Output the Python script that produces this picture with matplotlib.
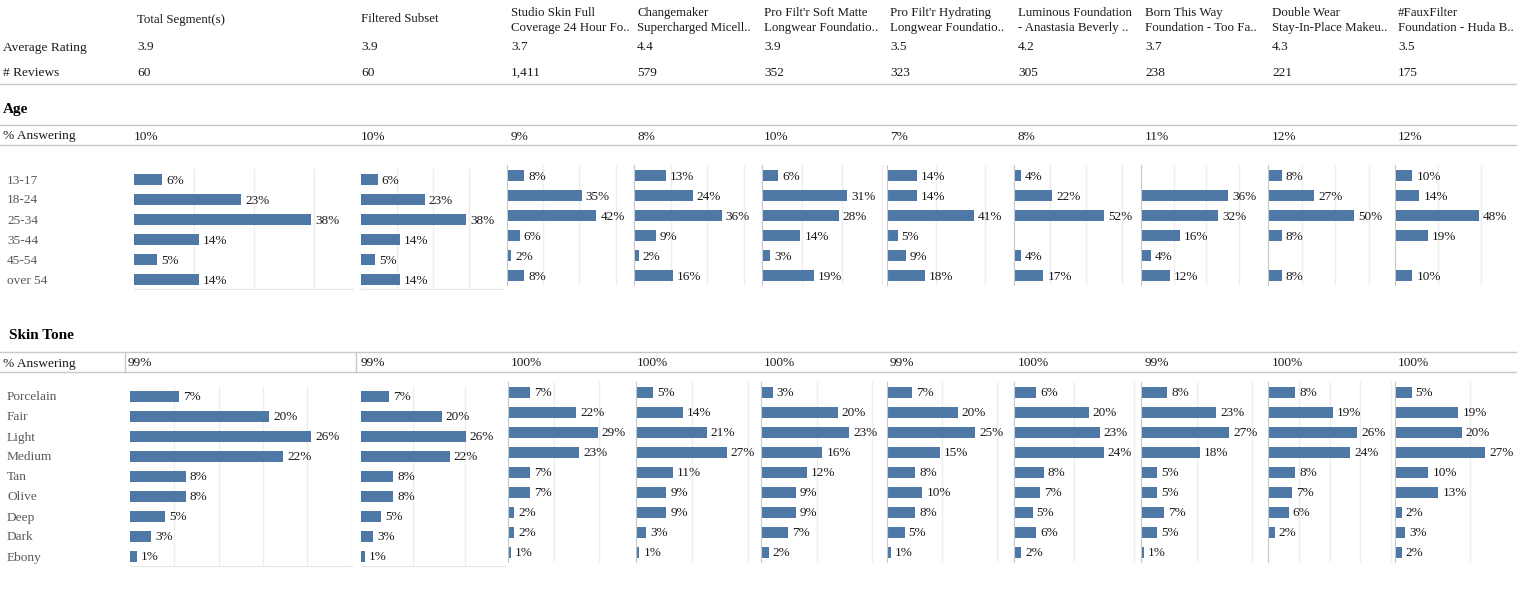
import numpy as np
import matplotlib.pyplot as plt
from matplotlib.lines import Line2D

# table columns
products = ["Total Segment(s)", "Filtered Subset",
            "Studio Skin Full\nCoverage 24 Hour Fo..",
            "Changemaker\nSupercharged Micell..",
            "Pro Filt'r Soft Matte\nLongwear Foundatio..",
            "Pro Filt'r Hydrating\nLongwear Foundatio..",
            "Luminous Foundation\n- Anastasia Beverly ..",
            "Born This Way\nFoundation - Too Fa..",
            "Double Wear\nStay-In-Place Makeu..",
            "#FauxFilter\nFoundation - Huda B.."]
avg_rating = [3.9, 3.9, 3.7, 4.4, 3.9, 3.5, 4.2, 3.7, 4.3, 3.5]
n_reviews = [60, 60, 1411, 579, 352, 323, 305, 238, 221, 175]
age_answering = [10, 10, 9, 8, 10, 7, 8, 11, 12, 12]
skin_answering = [99, 99, 100, 100, 100, 99, 100, 99, 100, 100]

age_groups = ["13-17", "18-24", "25-34", "35-44", "45-54", "over 54"]
age_pct = [
    [6, 23, 38, 14, 5, 14],
    [6, 23, 38, 14, 5, 14],
    [8, 35, 42, 6, 2, 8],
    [13, 24, 36, 9, 2, 16],
    [6, 31, 28, 14, 3, 19],
    [14, 14, 41, 5, 9, 18],
    [4, 22, 52, None, 4, 17],
    [None, 36, 32, 16, 4, 12],
    [8, 27, 50, 8, None, 8],
    [10, 14, 48, 19, None, 10],
]

skin_tones = ["Porcelain", "Fair", "Light", "Medium", "Tan", "Olive", "Deep", "Dark", "Ebony"]
skin_pct = [
    [7, 20, 26, 22, 8, 8, 5, 3, 1],
    [7, 20, 26, 22, 8, 8, 5, 3, 1],
    [7, 22, 29, 23, 7, 7, 2, 2, 1],
    [5, 14, 21, 27, 11, 9, 9, 3, 1],
    [3, 20, 23, 16, 12, 9, 9, 7, 2],
    [7, 20, 25, 15, 8, 10, 8, 5, 1],
    [6, 20, 23, 24, 8, 7, 5, 6, 2],
    [8, 23, 27, 18, 5, 5, 7, 5, 1],
    [8, 19, 26, 24, 8, 7, 6, 2, None],
    [5, 19, 20, 27, 10, 13, 2, 3, 2],
]

# layout (pixels)
W, H = 1517, 601
col_x = [137, 361, 511, 637, 764, 890, 1018, 1145, 1272, 1398]
age_panels = [(134, 353), (361, 503), (507, 634), (634, 762), (762, 887),
              (887, 1014), (1014, 1141), (1141, 1268), (1268, 1395), (1395, 1522)]
skin_panels = [(130, 352), (361, 505), (508, 636), (636, 761), (761, 887),
               (887, 1014), (1014, 1141), (1141, 1268), (1268, 1395), (1395, 1522)]
age_xmax = [47, 51.4, 59.6, 52.5, 45.6, 59.9, 73.4, 52.5, 73.8, 72.6]
age_step = [12.85, 13, 17, 15, 14.6, 23, 20.8, 13.5, 19.5, 24.6]
skin_xmax = [31.9, 35.7, 41.3, 37.2, 32.8, 35.9, 34, 38.8, 37.1, 38.1]
skin_step = [6.37, 12.9, 14.7, 16.7, 14.5, 15.5, 16, 17, 9, 22.5]

BAR = '#4e79a7'
LINE = '#c8c8c8'
GRID = '#eeeeee'
TXT = '#1a1a1a'
CAT = '#595959'
DY = 1.5  # matplotlib centres on the bbox incl. descent, nudge glyphs down

plt.rcParams['font.family'] = ['Liberation Serif', 'DejaVu Serif']
fig = plt.figure(figsize=(W / 100, H / 100), dpi=100)


def fx(x):
    return x / W


def fy(y):
    return 1 - (y + DY) / H


def text(x, y, s, size=9.6, color=TXT, **kw):
    fig.text(fx(x), fy(y), s, fontsize=size, color=color, va='center', ha='left', **kw)


def hline(y, x0=0, x1=W):
    fig.add_artist(Line2D([x0 / W, x1 / W], [1 - y / H, 1 - y / H], color=LINE, lw=1))


def vline(x, y0, y1):
    fig.add_artist(Line2D([x / W, x / W], [1 - y0 / H, 1 - y1 / H], color=LINE, lw=1))


# header
for x, name in zip(col_x, products):
    lines = name.split('\n')
    if len(lines) == 1:
        text(x, 18, lines[0], size=9.3)
    else:
        text(x, 11.5, lines[0], size=9.3)
        text(x, 26.5, lines[1], size=9.3)

text(3, 46, "Average Rating")
text(3, 71, "# Reviews")
for x, r, n in zip(col_x, avg_rating, n_reviews):
    text(x, 46, f"{r:.1f}")
    text(x, 71, f"{n:,}")
hline(84)

# age section
text(3, 108, "Age", size=11, weight='bold', color='black')
hline(125)
text(3, 135, "% Answering")
for i, (x, v) in enumerate(zip(col_x, age_answering)):
    text(134 if i == 0 else x, 135, f"{v}%")
hline(145)

# skin tone section
text(9, 334, "Skin Tone", size=11, weight='bold', color='black')
hline(352)
text(3, 362, "% Answering")
for i, (x, v) in enumerate(zip(col_x, skin_answering)):
    text(128 if i == 0 else x, 362, f"{v}%")
hline(372)
vline(125, 352, 372)
vline(356, 352, 372)


def panel(x0, x1, y0, values, xmax, step, first):
    n = len(values)
    y1 = y0 + 20 * n
    ax = fig.add_axes([x0 / W, 1 - y1 / H, (x1 - x0) / W, (y1 - y0) / H])
    for i, v in enumerate(values):
        if v is None:
            continue
        ax.barh(i, v, height=0.55, color=BAR)
        ax.annotate(f"{v}%", (v, i), xytext=(4, -DY), textcoords='offset pixels',
                    va='center', ha='left', fontsize=9.5, color=TXT)
    ax.set_xlim(0, xmax)
    ax.set_ylim(n - 0.5, -0.5)
    ax.set_xticks(np.arange(step, xmax, step))
    ax.set_yticks([])
    ax.tick_params(length=0, labelbottom=False)
    ax.grid(axis='x', color=GRID, lw=1)
    ax.set_axisbelow(True)
    for s in ax.spines.values():
        s.set_visible(False)
    if first:
        ax.spines['bottom'].set_visible(True)
        ax.spines['bottom'].set_color('#e6e6e6')
    else:
        ax.spines['left'].set_visible(True)
        ax.spines['left'].set_color(LINE)
    ax.patch.set_alpha(0)
    return ax


for j in range(len(products)):
    first = j < 2
    x0, x1 = age_panels[j]
    panel(x0, x1, 169 if first else 165, age_pct[j], age_xmax[j], age_step[j], first)
    x0, x1 = skin_panels[j]
    panel(x0, x1, 386 if first else 382, skin_pct[j], skin_xmax[j], skin_step[j], first)

for i, g in enumerate(age_groups):
    text(7, 179 + 20 * i, g, color=CAT)
for i, s in enumerate(skin_tones):
    text(7, 396 + 20 * i, s, color=CAT)

fig.savefig('out.png', dpi=100)
